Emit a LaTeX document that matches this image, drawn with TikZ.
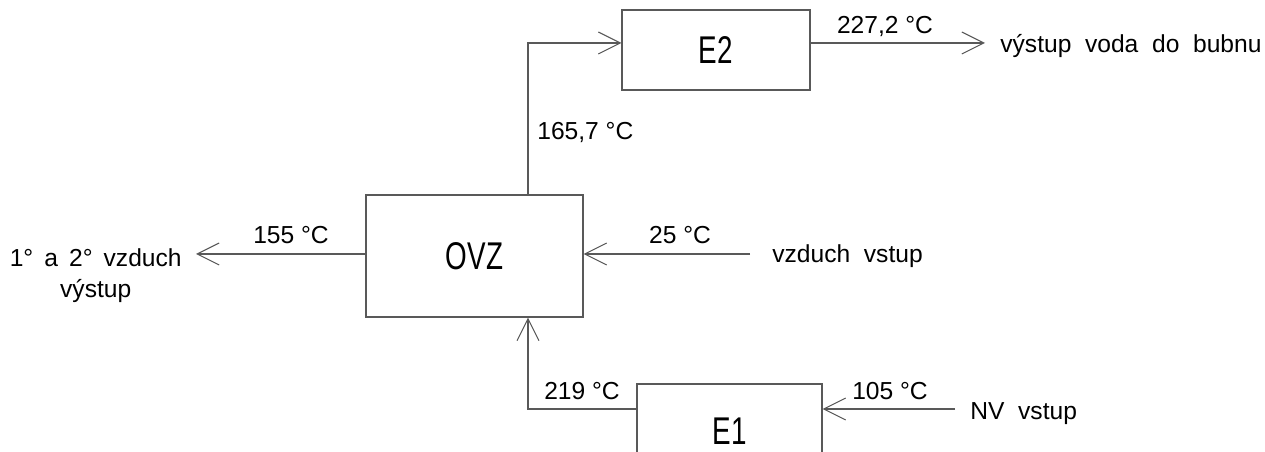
\documentclass[tikz,border=0pt]{standalone}
\usepackage{fontspec}
\setmainfont{Liberation Sans}
\newfontfamily\boxfont{Liberation Sans}[FakeStretch=0.72]
\usetikzlibrary{arrows.meta,positioning}

\begin{document}
\begin{tikzpicture}[
  x=0.02cm, y=-0.02cm,
  font=\fontsize{14}{16}\selectfont,
  block/.style={draw=black!65, line width=0.6pt, minimum width=#1, inner sep=0pt,
    font=\boxfont\fontsize{22}{24}\selectfont},
  lbl/.style={inner sep=0pt},
  arrow/.style={-{Straight Barb[length=4.4mm, width=4.4mm]}, draw=black!65, line width=0.6pt}
]
\useasboundingbox (0,0) rectangle (1265,452);
\clip (0,0) rectangle (1265,452);

% exchangers
\node[block=4.34cm, minimum height=2.44cm] (ovz) at (474.5,256) {OVZ};
\node[block=3.76cm, minimum height=1.6cm] (e2) at (716,50) {E2};
\node[block=3.7cm, minimum height=2.2cm] (e1) at (729.5,439) {};
\node[lbl, font=\boxfont\fontsize{22}{24}\selectfont] (e1txt) at (729.5,431) {E1};

% free ends
\coordinate (split) at (528,43);
\coordinate (join) at (528,409);
\coordinate (airout) at (196,254);
\coordinate (airin) at (750,254);
\coordinate (waterout) at (985,43);
\coordinate (nvin) at (955,409);

\draw[arrow] (ovz.north -| split) -- (split) -- (split -| e2.west);
\draw[arrow] (split -| e2.east) -- (waterout);
\draw[arrow] (airout -| ovz.west) -- (airout);
\draw[arrow] (airin) -- (airin -| ovz.east);
\draw[arrow] (join -| e1.west) -- (join) -- (ovz.south -| join);
\draw[arrow] (nvin) -- (nvin -| e1.east);

% temperatures
\node[lbl, anchor=base] (t2272) at (885,34) {227,2 °C};
\node[lbl, anchor=base west] (t1657) at (537,140) {165,7 °C};
\node[lbl, anchor=base] (t155) at (291,244) {155 °C};
\node[lbl, anchor=base] (t25) at (680,244) {25 °C};
\node[lbl, anchor=base] (t219) at (582,400) {219 °C};
\node[lbl, anchor=base] (t105) at (890,400) {105 °C};

% streams
\node[lbl, anchor=base west] (voda) at (1000,53) {výstup\ \ voda\ \ do\ \ bubnu};
\node[lbl, anchor=base west] (vzin) at (772,263) {vzduch\ \ vstup};
\node[lbl, anchor=base west] (nv) at (970,420) {NV\ \ vstup};
\node[lbl, anchor=base east, align=center] (vzout) at (182,298)
  {1°\hspace{0.45em}a\hspace{0.45em}2°\hspace{0.45em}vzduch\\[2pt]výstup};
\end{tikzpicture}
\end{document}
